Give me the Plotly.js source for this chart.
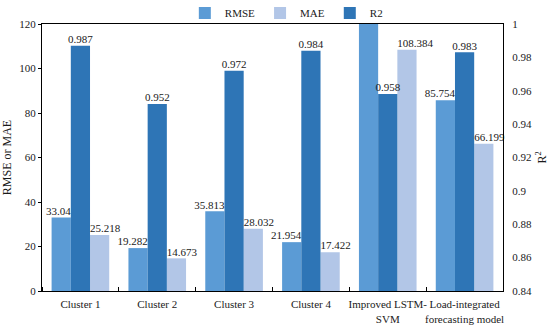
<!DOCTYPE html>
<html><head><meta charset="utf-8">
<script src="https://cdn.plot.ly/plotly-3.0.1.min.js"></script>
<style>body{margin:0;padding:0;background:#fff}#chart{width:550px;height:328px}</style>
</head><body><div id="chart"></div>
<script>
const categories = ["Cluster 1","Cluster 2","Cluster 3","Cluster 4","Improved LSTM-<br>SVM","Load-integrated<br>forecasting model"];
const rmse = [33.04, 19.282, 35.813, 21.954, 140, 85.754];
const rmseLabels = ["33.04","19.282","35.813","21.954","","85.754"];
const mae = [25.218, 14.673, 28.032, 17.422, 108.384, 66.199];
const maeLabels = ["25.218","14.673","28.032","17.422","108.384","66.199"];
const r2 = [0.987, 0.952, 0.972, 0.984, 0.958, 0.983];
const r2Labels = ["0.987","0.952","0.972","0.984","0.958","0.983"];

const FAM = "Liberation Serif, Times New Roman, serif";
const font = {family: FAM, size: 11, color: "#1a1a1a"};
const W = 0.25;
const idx = categories.map((c, i) => i);
const OFF_RMSE = -0.375, OFF_R2 = -0.125, OFF_MAE = 0.125;

const traces = [
  {type:"bar", name:"RMSE", x:idx, y:rmse, marker:{color:"#5b9bd5"}, width:W, offset:OFF_RMSE, yaxis:"y"},
  {type:"bar", name:"MAE", x:idx, y:mae, marker:{color:"#b2c6e7"}, width:W, offset:OFF_MAE, yaxis:"y"},
  {type:"bar", name:"R2", x:idx, y:r2, marker:{color:"#2e75b6"}, width:W, offset:OFF_R2, yaxis:"y2"},
  {type:"scatter", mode:"text", x:idx.map(i => i + OFF_RMSE + W), y:rmse, text:rmseLabels,
   textposition:"top left", textfont:font, yaxis:"y3", showlegend:false, cliponaxis:false, hoverinfo:"skip"},
  {type:"scatter", mode:"text", x:idx.map(i => i + OFF_MAE), y:mae, text:maeLabels,
   textposition:"top right", textfont:font, yaxis:"y3", showlegend:false, cliponaxis:false, hoverinfo:"skip"},
  {type:"scatter", mode:"text", x:idx.map(i => i + OFF_R2 + W/2), y:r2, text:r2Labels,
   textposition:"top center", textfont:font, yaxis:"y4", showlegend:false, cliponaxis:false, hoverinfo:"skip"}
];
const layout = {
  width:550, height:328,
  margin:{l:42, r:47, t:24, b:37, autoexpand:false},
  paper_bgcolor:"#fff", plot_bgcolor:"#fff",
  font: font,
  barmode:"overlay",
  showlegend:true,
  legend:{orientation:"h", x:0.53, xanchor:"center", yref:"container", y:0.96, yanchor:"middle", font:font,
          bgcolor:"rgba(0,0,0,0)", traceorder:"normal"},
  xaxis:{range:[-0.5, 5.5], tickmode:"array", tickvals:idx, ticktext:categories,
         showline:true, linecolor:"#000", linewidth:1, mirror:true, ticks:"", tickangle:0,
         ticklabelstandoff:3,
         minor:{tick0:0.5, dtick:1, ticks:"inside", ticklen:4, tickcolor:"#000", showgrid:false},
         tickfont:font, showgrid:false, zeroline:false, automargin:false},
  yaxis:{range:[0,120], dtick:20, showline:true, linecolor:"#000", linewidth:1,
         ticks:"outside", ticklen:3, tickcolor:"#000", showgrid:false, zeroline:false, automargin:false,
         tickfont:font, title:{text:"RMSE or MAE", font:{family:FAM, size:12, color:"#1a1a1a"}, standoff:8}},
  yaxis2:{range:[0.84,1], dtick:0.02, overlaying:"y", side:"right", showline:true,
          linecolor:"#000", linewidth:1, ticks:"", showgrid:false, zeroline:false, automargin:false,
          tickfont:font, ticklabelstandoff:6,
          title:{text:"R<sup>2</sup>", font:{family:FAM, size:12, color:"#1a1a1a"}, standoff:6}},
  yaxis3:{range:[0,120], overlaying:"y", visible:false},
  yaxis4:{range:[0.84,1], overlaying:"y", visible:false}
};
Plotly.newPlot("chart", traces, layout, {displayModeBar:false, staticPlot:true});
</script></body></html>
